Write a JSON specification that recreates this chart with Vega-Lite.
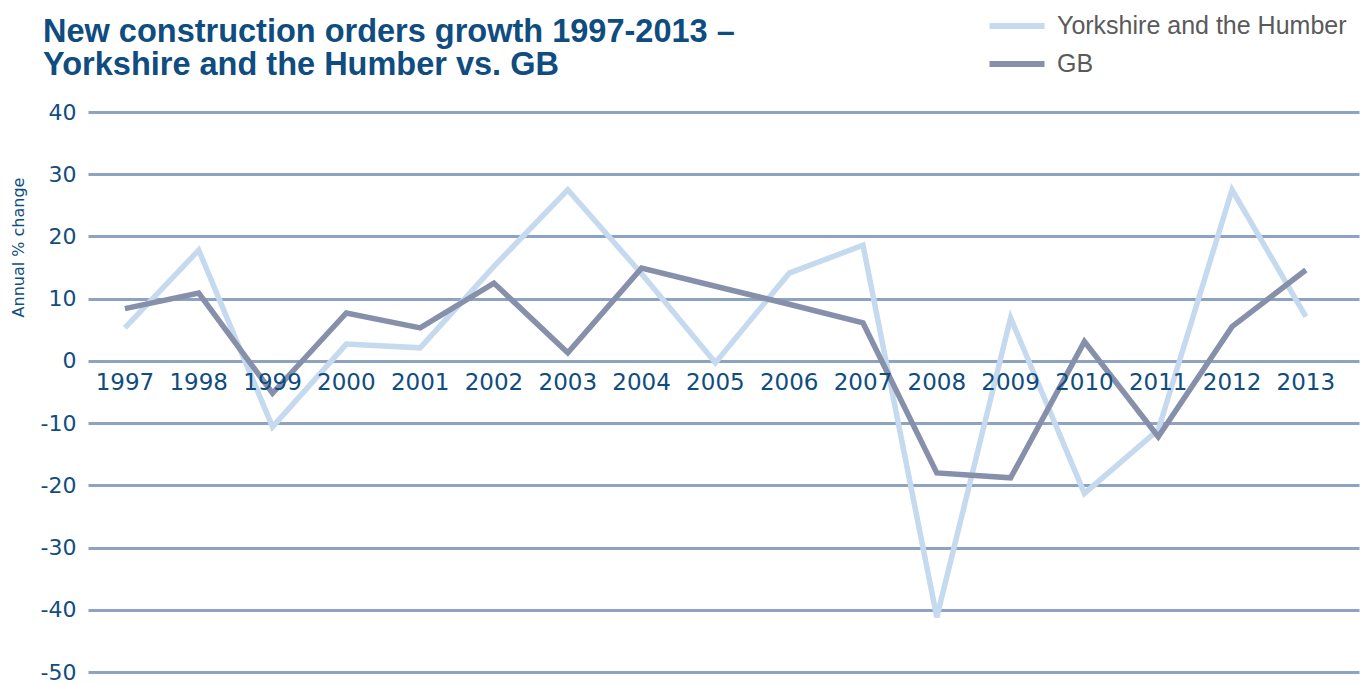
{
  "$schema": "https://vega.github.io/schema/vega-lite/v6.json",
  "autosize": {"type": "none"},
  "padding": {"left": 88, "top": 112, "right": 1, "bottom": 12},
  "width": 1271,
  "height": 560,
  "background": "white",
  "title": {
    "text": ["New construction orders growth 1997-2013 –", "Yorkshire and the Humber vs. GB"],
    "anchor": "start",
    "frame": "group",
    "font": "Liberation Sans",
    "fontWeight": "bold",
    "fontSize": 32.5,
    "lineHeight": 33,
    "color": "#0f4c7f",
    "dx": -45,
    "offset": -69
  },
  "config": {"view": {"stroke": null}},
  "data": {
    "values": [
      {"year": 1997, "series": "Yorkshire and the Humber", "value": 5.3},
      {"year": 1998, "series": "Yorkshire and the Humber", "value": 17.8},
      {"year": 1999, "series": "Yorkshire and the Humber", "value": -10.6},
      {"year": 2000, "series": "Yorkshire and the Humber", "value": 2.7},
      {"year": 2001, "series": "Yorkshire and the Humber", "value": 2.1},
      {"year": 2002, "series": "Yorkshire and the Humber", "value": 15.2},
      {"year": 2003, "series": "Yorkshire and the Humber", "value": 27.5},
      {"year": 2004, "series": "Yorkshire and the Humber", "value": 14.0},
      {"year": 2005, "series": "Yorkshire and the Humber", "value": -0.3},
      {"year": 2006, "series": "Yorkshire and the Humber", "value": 14.1},
      {"year": 2007, "series": "Yorkshire and the Humber", "value": 18.6},
      {"year": 2008, "series": "Yorkshire and the Humber", "value": -41.2},
      {"year": 2009, "series": "Yorkshire and the Humber", "value": 6.9},
      {"year": 2010, "series": "Yorkshire and the Humber", "value": -21.3},
      {"year": 2011, "series": "Yorkshire and the Humber", "value": -11.1},
      {"year": 2012, "series": "Yorkshire and the Humber", "value": 27.5},
      {"year": 2013, "series": "Yorkshire and the Humber", "value": 7.1},
      {"year": 1997, "series": "GB", "value": 8.4},
      {"year": 1998, "series": "GB", "value": 10.9},
      {"year": 1999, "series": "GB", "value": -5.2},
      {"year": 2000, "series": "GB", "value": 7.7},
      {"year": 2001, "series": "GB", "value": 5.3},
      {"year": 2002, "series": "GB", "value": 12.5},
      {"year": 2003, "series": "GB", "value": 1.3},
      {"year": 2004, "series": "GB", "value": 14.9},
      {"year": 2005, "series": "GB", "value": 12.0},
      {"year": 2006, "series": "GB", "value": 9.1},
      {"year": 2007, "series": "GB", "value": 6.1},
      {"year": 2008, "series": "GB", "value": -18.0},
      {"year": 2009, "series": "GB", "value": -18.8},
      {"year": 2010, "series": "GB", "value": 3.1},
      {"year": 2011, "series": "GB", "value": -12.2},
      {"year": 2012, "series": "GB", "value": 5.5},
      {"year": 2013, "series": "GB", "value": 14.6}
    ]
  },
  "layer": [
    {
      "mark": {"type": "line", "strokeWidth": 5.5, "strokeJoin": "miter", "clip": false},
      "encoding": {
        "x": {"field": "year", "type": "quantitative", "scale": {"domain": [1996.5, 2013.72], "nice": false, "zero": false}, "axis": null},
        "y": {
          "field": "value", "type": "quantitative",
          "scale": {"domain": [-50, 40], "nice": false},
          "axis": {
            "values": [-50, -40, -30, -20, -10, 0, 10, 20, 30, 40],
            "labelExpr": "toString(datum.value)",
            "domain": false, "ticks": false,
            "grid": true, "gridColor": "#8ea3c2", "gridWidth": 3, "gridOpacity": 1,
            "labelFont": "DejaVu Sans", "labelFontSize": 22, "labelColor": "#124d80", "labelPadding": 12,
            "title": "Annual % change",
            "titleFont": "DejaVu Sans", "titleFontSize": 16, "titleFontWeight": "normal", "titleColor": "#124d80",
            "titleAngle": 270, "titleAlign": "center", "titleBaseline": "middle",
            "titleX": -70, "titleY": 135
          }
        },
        "color": {
          "field": "series", "type": "nominal",
          "scale": {"domain": ["Yorkshire and the Humber", "GB"], "range": ["#c5daef", "#8790ab"]},
          "sort": ["Yorkshire and the Humber", "GB"],
          "legend": {
            "orient": "none", "legendX": 915, "legendY": -100,
            "title": null, "direction": "vertical",
            "symbolType": "M-2.5,0H2.5", "symbolSize": 484, "symbolStrokeWidth": 6,
            "labelFont": "Liberation Sans", "labelFontSize": 25, "labelColor": "#5a5a5a",
            "labelOffset": 26, "rowPadding": 11, "labelLimit": 500
          }
        },
        "order": {"field": "year", "type": "quantitative"}
      }
    },
    {
      "transform": [{"filter": "datum.series === 'GB'"}],
      "mark": {"type": "text", "font": "DejaVu Sans", "fontSize": 23, "color": "#0f4c7f", "baseline": "middle", "align": "center", "dy": 22},
      "encoding": {
        "x": {"field": "year", "type": "quantitative"},
        "y": {"datum": 0},
        "text": {"field": "year", "type": "nominal"}
      }
    }
  ]
}
